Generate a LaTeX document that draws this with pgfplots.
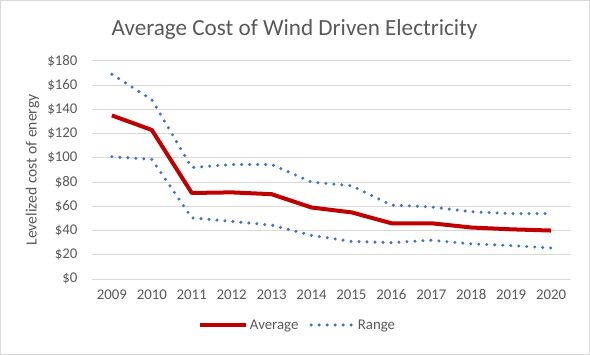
\documentclass[border=0pt]{standalone}
\usepackage{fontspec}
\setmainfont{Carlito}
\usepackage{pgfplots}
\pgfplotsset{compat=1.18}
\definecolor{avgred}{HTML}{C00000}
\definecolor{rngblue}{HTML}{4472C4}
\definecolor{txtgray}{HTML}{595959}
\definecolor{gridgray}{HTML}{D9D9D9}
\definecolor{bordergray}{HTML}{D9D9D9}
\pgfplotsset{
  avgleg/.style={legend image code/.code={\draw[##1] (0bp,0bp) -- (46bp,0bp);}},
  rngleg/.style={legend image code/.code={\draw[##1] (0bp,0bp) -- (43bp,0bp);}},
}
\begin{document}
\begin{tikzpicture}[x=1bp,y=1bp]
\draw[bordergray, line width=0.8bp] (0.5,0.5) rectangle (589.5,354.5);
\node[txtgray, font=\fontsize{23.2}{27}\selectfont] at (294.5,325) {Average Cost of Wind Driven Electricity};
\begin{axis}[
  at={(92bp,76bp)}, anchor=south west,
  scale only axis, width=479bp, height=218bp,
  xmin=2008.5, xmax=2020.5, ymin=0, ymax=180,
  xtick={2009,...,2020}, ytick={0,20,...,180},
  xticklabels={2009,2010,2011,2012,2013,2014,2015,2016,2017,2018,2019,2020},
  yticklabels={\$0,\$20,\$40,\$60,\$80,\$100,\$120,\$140,\$160,\$180},
  axis line style={draw=none},
  tick style={draw=none},
  ymajorgrids, grid style={gridgray, line width=0.9bp},
  ticklabel style={txtgray, font=\fontsize{14.9}{17}\selectfont},
  xticklabel style={yshift=-7bp},
  yticklabel style={xshift=-11bp},
  /pgf/number format/assume math mode=true,
  ylabel={Levelized cost of energy},
  ylabel style={txtgray, font=\fontsize{15.7}{18}\selectfont, at={(-49bp,0.5)}, anchor=south},
  legend style={at={(0.429,-0.211)}, anchor=center, draw=none, fill=none,
    font=\fontsize{14.9}{17}\selectfont, text=txtgray, legend columns=2,
    /tikz/every even column/.append style={column sep=9bp}},
  legend cell align=left,
]
\addplot[avgred, line width=4bp, line join=round, avgleg] coordinates {
(2009,135) (2010,123) (2011,71) (2012,71.5) (2013,70) (2014,59) (2015,55) (2016,46) (2017,46) (2018,42.5) (2019,41) (2020,40)};
\addlegendentry{Average}
\addplot[rngblue, line width=3.4bp, line cap=round, dash pattern=on 0bp off 8bp, rngleg] coordinates {
(2009,169) (2010,148) (2011,92) (2012,94.5) (2013,94.5) (2014,80) (2015,77) (2016,61) (2017,59.5) (2018,55.5) (2019,54) (2020,54)};
\addlegendentry{Range}
\addplot[rngblue, line width=3.4bp, line cap=round, dash pattern=on 0bp off 8bp, forget plot] coordinates {
(2009,101) (2010,98.7) (2011,50.5) (2012,47.5) (2013,44.5) (2014,36) (2015,31) (2016,30) (2017,32) (2018,29) (2019,27.6) (2020,25.6)};
\end{axis}
\end{tikzpicture}
\end{document}
